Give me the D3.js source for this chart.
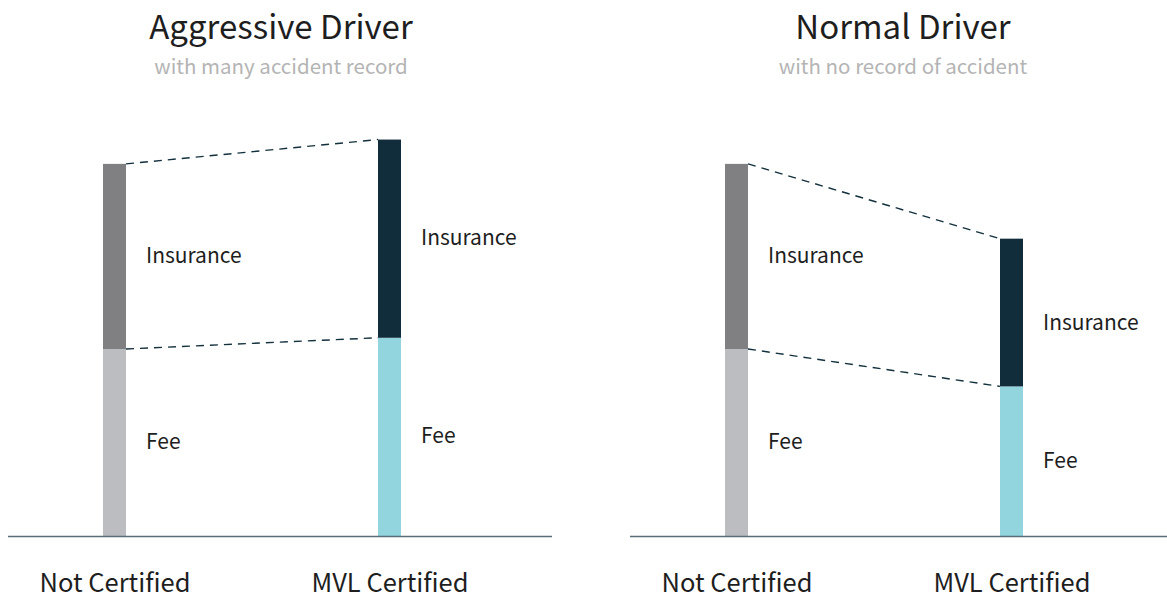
<!DOCTYPE html>
<html lang="en">
    <head>
        <meta charset="utf-8">
        <title>Driver cost comparison</title>
        <script src="https://cdn.jsdelivr.net/npm/d3@7"></script>
        <style>
            body { margin: 0; background: #fff; }
            text { font-family: "Noto Sans CJK KR", "Noto Sans", sans-serif; }
        </style>
    </head>
    <body>
        <script type="text/javascript">

            // the data
            var panels = ["Aggressive Driver", "Normal Driver"];
            var subtitles = ["with many accident record", "with no record of accident"];
            var categories = ["Not Certified", "MVL Certified"];
            var segments = ["Fee", "Insurance"];
            // values per panel, per category
            var feeValues = [[100, 106], [100, 80]];
            var insuranceValues = [[99, 106], [99, 79]];

            // colours per category: [fee, insurance]
            var colors = {
                "Not Certified": ["#bcbdc1", "#808083"],
                "MVL Certified": ["#92d5de", "#112d3b"]
            };

            // small vertical nudges for some labels (panel-category-segment)
            var labelNudge = {"1-1-Insurance": 11};

            var w = 1167;
            var h = 600;
            var panelWidth = 544;
            var panelX = [8, 630];
            var baseY = 536;

            var svg = d3.select("body")
                        .append("svg")
                        .attr("width", w)
                        .attr("height", h);

            // y scale shared by both panels
            var yScale = d3.scaleLinear()
                           .domain([0, 220])
                           .range([baseY, baseY - 220 * 1.87]);

            // x positions of the bars inside a panel
            var xScale = d3.scalePoint()
                           .domain(categories)
                           .range([106.5, 381.5]);

            var barWidth = 23;

            panels.forEach(function(title, p) {
                var g = svg.append("g")
                           .attr("transform", "translate(" + panelX[p] + ",0)");

                // title and subtitle
                g.append("text")
                 .attr("x", panelWidth / 2 + 1)
                 .attr("y", 39)
                 .attr("text-anchor", "middle")
                 .attr("font-size", 33)
                 .attr("fill", "#1e1e1e")
                 .text(title);

                g.append("text")
                 .attr("x", panelWidth / 2 + 1)
                 .attr("y", 74)
                 .attr("text-anchor", "middle")
                 .attr("font-size", 20.5)
                 .attr("fill", "#b4b4b4")
                 .text(subtitles[p]);

                // stacked data for this panel
                var data = categories.map(function(c, i) {
                    var fee = feeValues[p][i];
                    var ins = insuranceValues[p][i];
                    return {
                        cat: c,
                        parts: [
                            {name: "Fee", cat: c, i: i, y0: 0, y1: fee, color: colors[c][0]},
                            {name: "Insurance", cat: c, i: i, y0: fee, y1: fee + ins, color: colors[c][1]}
                        ]
                    };
                });

                // dashed connectors between the bars
                [1, 0].forEach(function(k) {
                    g.append("line")
                     .attr("x1", xScale(categories[0]) + barWidth / 2)
                     .attr("y1", yScale(data[0].parts[k].y1))
                     .attr("x2", xScale(categories[1]) - barWidth / 2)
                     .attr("y2", yScale(data[1].parts[k].y1))
                     .attr("stroke", "#13303d")
                     .attr("stroke-width", 1.4)
                     .attr("stroke-dasharray", "8,6");
                });

                var bars = g.selectAll(".bar")
                            .data(data)
                            .enter()
                            .append("g")
                            .attr("class", "bar");

                bars.selectAll("rect")
                    .data(function(d) { return d.parts; })
                    .enter()
                    .append("rect")
                    .attr("x", function(d) { return xScale(d.cat) - barWidth / 2; })
                    .attr("y", function(d) { return yScale(d.y1); })
                    .attr("width", barWidth)
                    .attr("height", function(d) { return yScale(d.y0) - yScale(d.y1); })
                    .attr("fill", function(d) { return d.color; });

                // segment labels
                bars.selectAll(".seglabel")
                    .data(function(d) { return d.parts; })
                    .enter()
                    .append("text")
                    .attr("class", "seglabel")
                    .attr("x", function(d) { return xScale(d.cat) + barWidth / 2 + 20; })
                    .attr("y", function(d) {
                        var nudge = labelNudge[p + "-" + d.i + "-" + d.name] || 0;
                        return (yScale(d.y0) + yScale(d.y1)) / 2 - 1 + nudge;
                    })
                    .attr("dy", "0.35em")
                    .attr("font-size", 21)
                    .attr("fill", "#1e1e1e")
                    .text(function(d) { return d.name; });

                // baseline
                g.append("line")
                 .attr("x1", 0)
                 .attr("x2", panelWidth)
                 .attr("y1", baseY + 0.5)
                 .attr("y2", baseY + 0.5)
                 .attr("stroke", "#5a6e78")
                 .attr("stroke-width", 1.5);

                // category labels
                var axis = d3.axisBottom(xScale).tickSize(0).tickPadding(0);
                var ax = g.append("g")
                          .attr("transform", "translate(0," + baseY + ")")
                          .call(axis);
                ax.select(".domain").remove();
                ax.selectAll("text")
                  .attr("y", 56)
                  .attr("dy", 0)
                  .attr("font-size", 25.5)
                  .attr("fill", "#1e1e1e");
            });
        </script>
    </body>
</html>
